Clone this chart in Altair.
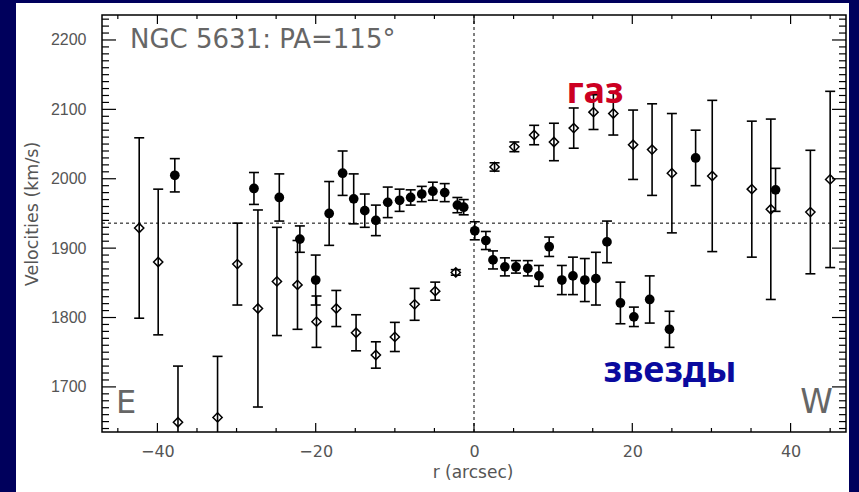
import altair as alt
import pandas as pd

# ---- data ----
star_r = [-37.8, -27.8, -24.6, -22.0, -20.0, -18.3, -16.6, -15.2, -13.8, -12.4, -10.9, -9.4, -8.0,
          -6.6, -5.2, -3.7, -2.1, -1.3, 0.1, 1.5, 2.4, 3.9, 5.3, 6.8, 8.2, 9.5, 11.1, 12.5, 14.0,
          15.4, 16.8, 18.5, 20.2, 22.2, 24.7, 28.0, 38.1]
star_v = [2005, 1986, 1973, 1913, 1854, 1950, 2008, 1971, 1954, 1940, 1966, 1969, 1973,
          1978, 1982, 1980, 1962, 1959, 1925, 1911, 1883, 1873, 1873, 1871, 1860, 1902, 1854, 1860, 1854,
          1856, 1909, 1821, 1801, 1826, 1783, 2030, 1984]
star_err = [24, 23, 34, 19, 36, 46, 32, 36, 24, 22, 22, 16, 11,
            11, 13, 13, 11, 11, 13, 13, 13, 13, 9, 11, 15, 14, 21, 27, 31,
            38, 30, 30, 14, 34, 26, 40, 31]

gas_r = [-42.3, -39.9, -37.4, -32.4, -29.9, -27.3, -24.9, -22.3, -19.9, -17.4, -14.9, -12.4, -10.0,
         -7.5, -4.9, -2.3, 2.6, 5.1, 7.6, 10.1, 12.6, 15.1, 17.6, 20.1, 22.5, 25.0, 30.1, 35.1,
         37.5, 42.5, 45.0]
gas_v = [1929, 1880, 1649, 1656, 1877, 1813, 1852, 1847, 1794, 1813, 1778, 1746, 1772,
         1819, 1838, 1865, 2017, 2046, 2063, 2053, 2073, 2096, 2094, 2049, 2042, 2008, 2004, 1985,
         1956, 1952, 1999]
gas_err = [130, 105, 81, 88, 59, 142, 78, 64, 37, 26, 26, 19, 21,
           23, 13, 4, 6, 7, 14, 27, 29, 25, 31, 50, 66, 86, 109, 98,
           130, 89, 127]

systemic_v = [1936]
center_r = [0]

x_major_ticks = [-40, -20, 0, 20, 40]
x_minor_ticks = [v for v in range(-45, 46, 5) if v not in x_major_ticks]
y_major_ticks = [1700, 1800, 1900, 2000, 2100, 2200]
y_minor_ticks = [v for v in range(1640, 2236, 10) if v not in y_major_ticks]

title_text = "NGC 5631: PA=115°"
east_text = "E"
west_text = "W"
gas_text = "газ"
stars_text = "звезды"
x_title = "r (arcsec)"
y_title = "Velocities (km/s)"

# ---- layout ----
W, H = 744, 417
xs = alt.Scale(domain=[-47, 47], nice=False, zero=False)
ys = alt.Scale(domain=[1635, 2236], nice=False, zero=False)
LABEL_GREY = "#555555"

stars = pd.DataFrame({"r": star_r, "v": star_v, "e": star_err})
stars["lo"] = stars["v"] - stars["e"]
stars["hi"] = stars["v"] + stars["e"]
gas = pd.DataFrame({"r": gas_r, "v": gas_v, "e": gas_err})
gas["lo"] = gas["v"] - gas["e"]
gas["hi"] = gas["v"] + gas["e"]

X_AXIS = alt.Axis(values=x_major_ticks, ticks=False, domain=False, grid=False, zindex=2, orient="bottom",
                  format="d",
                  labelFont="DejaVu Sans", labelFontSize=16, labelColor=LABEL_GREY, labelPadding=11,
                  title=x_title, titleFont="DejaVu Sans", titleFontSize=17, titleFontWeight="normal",
                  titleColor=LABEL_GREY, titleX=370.5, titleY=45, titleBaseline="alphabetic")
Y_AXIS = alt.Axis(values=y_major_ticks, ticks=False, domain=False, grid=False, zindex=2, orient="left",
                  format="d",
                  labelFont="Liberation Sans", labelFontSize=16, labelColor=LABEL_GREY, labelPadding=16,
                  title=y_title, titleFont="DejaVu Sans", titleFontSize=17.5, titleFontWeight="normal",
                  titleColor=LABEL_GREY, titleX=-70, titleY=198.5, titleAngle=270, titleBaseline="middle")


def X(field):
    return alt.X(field, scale=xs, axis=X_AXIS)


def Y(field):
    return alt.Y(field, scale=ys, axis=Y_AXIS)


one = pd.DataFrame({"k": [0]})

panel = alt.Chart(one).mark_rect(fill="white").encode(
    x=alt.value(-86), x2=alt.value(747), y=alt.value(-12), y2=alt.value(480))

frame = alt.Chart(one).mark_rect(fillOpacity=0, stroke="black", strokeWidth=1.5).encode(
    x=alt.value(0), x2=alt.value(W), y=alt.value(0), y2=alt.value(H))


def yticks(vals, length):
    d = pd.DataFrame({"t": vals})
    left = alt.Chart(d).mark_rule(color="black", strokeWidth=1.2).encode(
        y=Y("t:Q"), x=alt.value(0), x2=alt.value(length))
    right = alt.Chart(d).mark_rule(color="black", strokeWidth=1.2).encode(
        y=Y("t:Q"), x=alt.value(W - length), x2=alt.value(W))
    return [left, right]


def xticks(vals, length):
    d = pd.DataFrame({"t": vals})
    bottom = alt.Chart(d).mark_rule(color="black", strokeWidth=1.2).encode(
        x=X("t:Q"), y=alt.value(H - length), y2=alt.value(H))
    top = alt.Chart(d).mark_rule(color="black", strokeWidth=1.2).encode(
        x=X("t:Q"), y=alt.value(0), y2=alt.value(length))
    return [bottom, top]


hline = alt.Chart(pd.DataFrame({"v": systemic_v})).mark_rule(
    color="black", strokeWidth=1, strokeDash=[3, 3]).encode(
    y=Y("v:Q"), x=alt.value(0), x2=alt.value(W))
vline = alt.Chart(pd.DataFrame({"r": center_r})).mark_rule(
    color="black", strokeWidth=1, strokeDash=[3, 3]).encode(
    x=X("r:Q"), y=alt.value(0), y2=alt.value(H))


def errorbars(df):
    base = alt.Chart(df)
    stem = base.mark_rule(color="black", strokeWidth=1.6, clip=True).encode(
        x=X("r:Q"), y=Y("lo:Q"), y2="hi:Q")
    cap_lo = base.mark_rule(color="black", strokeWidth=1.6, clip=True, xOffset=-5, x2Offset=5).encode(
        x=X("r:Q"), x2="r:Q", y=Y("lo:Q"))
    cap_hi = base.mark_rule(color="black", strokeWidth=1.6, clip=True, xOffset=-5, x2Offset=5).encode(
        x=X("r:Q"), x2="r:Q", y=Y("hi:Q"))
    return [stem, cap_lo, cap_hi]


gas_pts = alt.Chart(gas).mark_point(shape="diamond", filled=False, size=85,
                                    stroke="black", strokeWidth=1.5, opacity=1).encode(
    x=X("r:Q"), y=Y("v:Q"))
star_pts = alt.Chart(stars).mark_circle(size=95, color="black", opacity=1).encode(
    x=X("r:Q"), y=Y("v:Q"))

title_mark = alt.Chart(one).mark_text(text=title_text, font="DejaVu Sans", fontSize=26,
                                      color="#666666", align="left", baseline="alphabetic").encode(
    x=alt.value(28), y=alt.value(33))
east_mark = alt.Chart(one).mark_text(text=east_text, font="DejaVu Sans", fontSize=32,
                                     color="#666666", align="left", baseline="alphabetic").encode(
    x=alt.value(14), y=alt.value(398))
west_mark = alt.Chart(one).mark_text(text=west_text, font="DejaVu Sans", fontSize=33,
                                     color="#666666", align="right", baseline="alphabetic").encode(
    x=alt.value(731), y=alt.value(398))
gas_label = alt.Chart(one).mark_text(text=gas_text, font="Noto Sans", fontSize=36, fontWeight="bold",
                                     color="#cc0022", align="center", baseline="alphabetic").encode(
    x=alt.value(493), y=alt.value(88))
stars_label = alt.Chart(one).mark_text(text=stars_text, font="Noto Sans", fontSize=36, fontWeight="bold",
                                       color="#0a0a9e", align="center", baseline="alphabetic").encode(
    x=alt.value(568), y=alt.value(367))

layers = [panel, hline, vline]
layers += yticks(y_minor_ticks, 7) + yticks(y_major_ticks, 14)
layers += xticks(x_minor_ticks, 4) + xticks(x_major_ticks, 9)
layers += errorbars(gas) + errorbars(stars)
layers += [gas_pts, star_pts, frame, title_mark, east_mark, west_mark, gas_label, stars_label]

chart = alt.layer(*layers).properties(
    width=W, height=H,
    autosize=alt.AutoSizeParams(type="none"),
    padding={"left": 102, "top": 15, "right": 13, "bottom": 60},
).configure(background="#00005c").configure_view(stroke=None)

chart.save("out.html", embed_options={"renderer": "svg", "actions": False})
